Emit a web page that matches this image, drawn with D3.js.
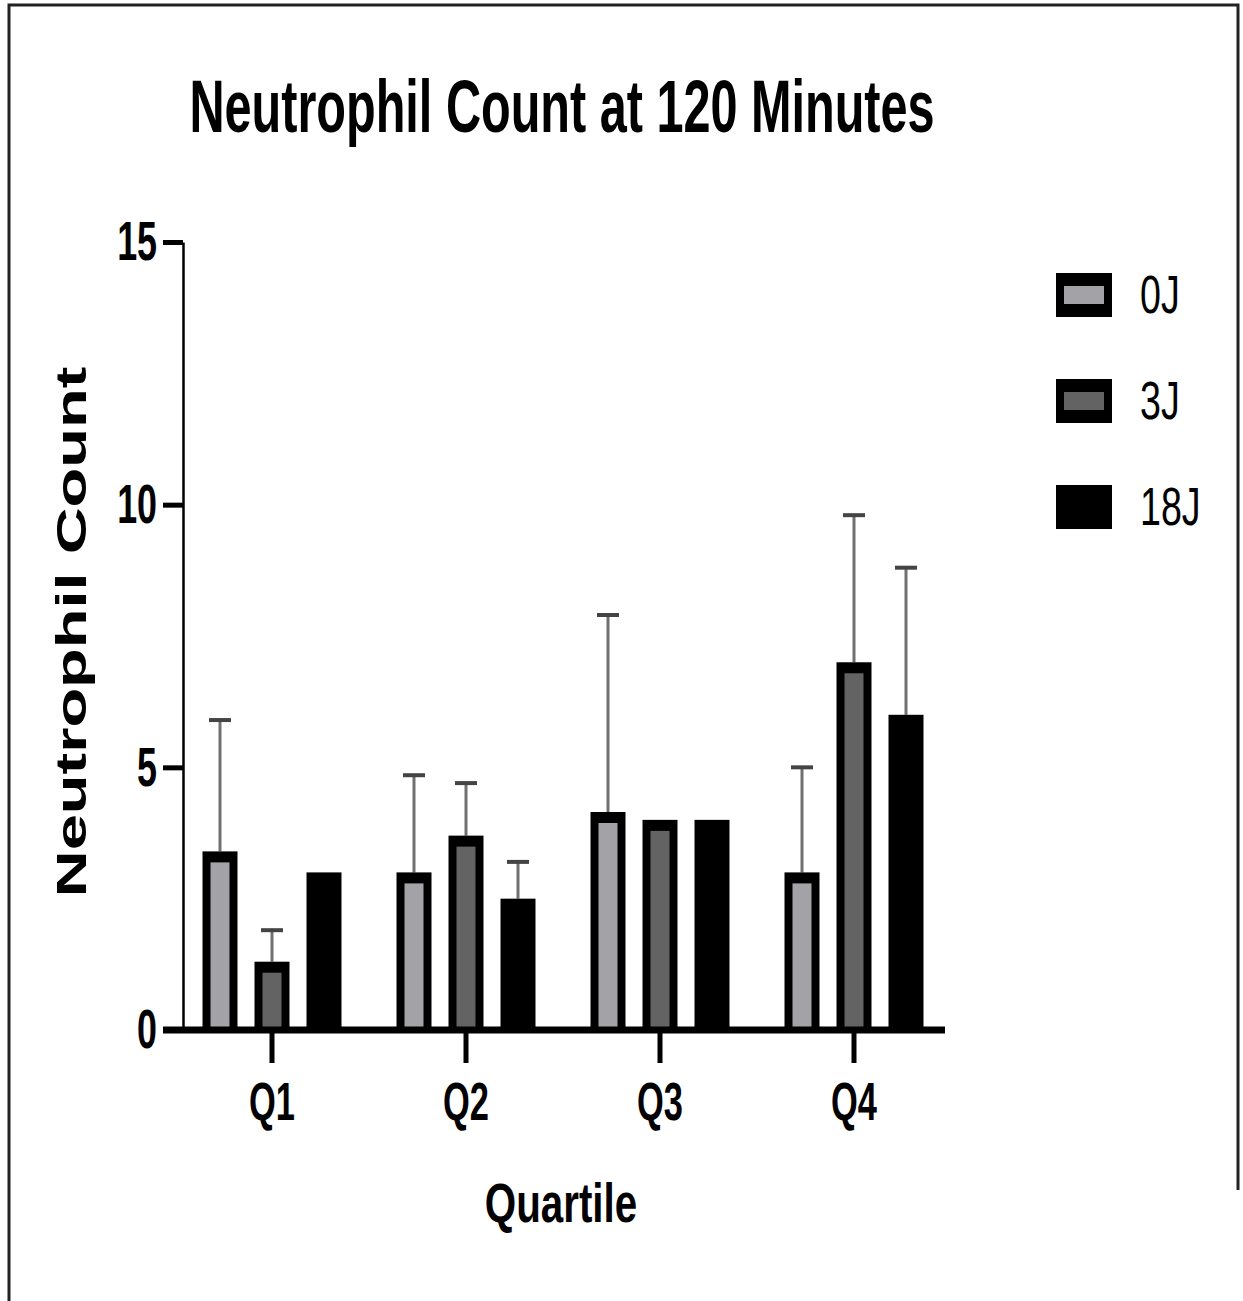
<!DOCTYPE html>
<html>
<head>
<meta charset="utf-8">
<script src="https://cdn.jsdelivr.net/npm/d3@7"></script>
<style>
  body { margin: 0; background: #fff; }
  text { font-family: "Liberation Sans", Arial, sans-serif; font-weight: bold; fill: #000; }
</style>
</head>
<body>
<div id="chart"></div>
<script>
// data
const categories = ['Q1', 'Q2', 'Q3', 'Q4'];
const series = ['0J', '3J', '18J'];
const means = {
    '0J':  [3.4, 3.0, 4.15, 3.0],
    '3J':  [1.3, 3.7, 4.0, 7.0],
    '18J': [3.0, 2.5, 4.0, 6.0]
};
// upward error bar length (SD), 0 = no bar drawn
const errors = {
    '0J':  [2.5, 1.85, 3.75, 2.0],
    '3J':  [0.6, 1.0, 0, 2.8],
    '18J': [0, 0.7, 0, 2.8]
};
const yTicks = [0, 5, 10, 15];
const fills = { '0J': '#a3a2a7', '3J': '#636363', '18J': '#000' };

const width = 1243, height = 1301;

const svg = d3.select('#chart').append('svg')
    .attr('width', width)
    .attr('height', height);

// squeeze text horizontally around its anchor (the source image is narrow)
function squeeze(sel, k) {
    sel.each(function () {
        const t = d3.select(this);
        const ax = +t.attr('x') || 0;
        t.attr('transform', `translate(${ax},0) scale(${k},1) translate(${-ax},0)`);
    });
}

// frame
svg.append('path')
    .attr('d', 'M9,1301 V5 H1238 V1190')
    .attr('fill', 'none')
    .attr('stroke', '#222')
    .attr('stroke-width', 3);

const xScale = d3.scaleBand()
    .domain(categories)
    .range([175, 951]);

const xSub = d3.scaleBand()
    .domain(series)
    .range([-78, 78])
    .paddingInner(0.327)
    .paddingOuter(0.1635);

const yScale = d3.scaleLinear()
    .domain([0, 15])
    .range([1030, 242]);

// rows: one per bar
const rows = [];
categories.forEach((c, i) => {
    series.forEach(s => rows.push({ cat: c, ser: s, mean: means[s][i], err: errors[s][i] }));
});

const chart = svg.append('g');

const barX = d => xScale(d.cat) + xScale.bandwidth() / 2 + xSub(d.ser);

// error bars (behind the bars)
const errRows = rows.filter(d => d.err > 0);
chart.selectAll('.err')
    .data(errRows)
    .join('line')
    .attr('class', 'err')
    .attr('x1', d => barX(d) + xSub.bandwidth() / 2)
    .attr('x2', d => barX(d) + xSub.bandwidth() / 2)
    .attr('y1', d => yScale(d.mean))
    .attr('y2', d => yScale(d.mean + d.err))
    .attr('stroke', '#707070')
    .attr('stroke-width', 3);

chart.selectAll('.cap')
    .data(errRows)
    .join('line')
    .attr('class', 'cap')
    .attr('x1', d => barX(d) + xSub.bandwidth() / 2 - 11)
    .attr('x2', d => barX(d) + xSub.bandwidth() / 2 + 11)
    .attr('y1', d => yScale(d.mean + d.err))
    .attr('y2', d => yScale(d.mean + d.err))
    .attr('stroke', '#444')
    .attr('stroke-width', 4);

// bars: black outline rect + inner fill
chart.selectAll('.bar')
    .data(rows)
    .join('rect')
    .attr('class', 'bar')
    .attr('x', d => barX(d))
    .attr('y', d => yScale(d.mean))
    .attr('width', xSub.bandwidth())
    .attr('height', d => yScale(0) - yScale(d.mean))
    .attr('fill', '#000');

chart.selectAll('.bar-in')
    .data(rows.filter(d => d.ser !== '18J'))
    .join('rect')
    .attr('class', 'bar-in')
    .attr('x', d => barX(d) + 8)
    .attr('y', d => yScale(d.mean) + 11)
    .attr('width', xSub.bandwidth() - 16)
    .attr('height', d => Math.max(0, yScale(0) - yScale(d.mean) - 11))
    .attr('fill', d => fills[d.ser]);

// y axis
const yAxisG = svg.append('g')
    .attr('transform', 'translate(183,0)')
    .call(d3.axisLeft(yScale).tickValues(yTicks).tickSize(20).tickSizeOuter(0).tickPadding(6));
yAxisG.select('.domain').attr('stroke', '#000').attr('stroke-width', 2.5);
yAxisG.selectAll('.tick line').attr('stroke', '#000').attr('stroke-width', 5);
yAxisG.selectAll('.tick text')
    .style('font-size', '56px')
    .call(squeeze, 0.64);

// x axis
const xAxisG = svg.append('g')
    .attr('transform', `translate(0,${yScale(0)})`)
    .call(d3.axisBottom(xScale).tickSize(33).tickSizeOuter(0).tickPadding(19));
xAxisG.select('.domain').remove();
xAxisG.append('line')
    .attr('x1', 163).attr('x2', 945)
    .attr('y1', 0).attr('y2', 0)
    .attr('stroke', '#000')
    .attr('stroke-width', 7);
xAxisG.selectAll('.tick line').attr('stroke', '#000').attr('stroke-width', 5);
xAxisG.selectAll('.tick text')
    .style('font-size', '53px')
    .call(squeeze, 0.65);

// title
svg.append('text')
    .attr('x', 562)
    .attr('y', 132)
    .attr('text-anchor', 'middle')
    .style('font-size', '75px')
    .text('Neutrophil Count at 120 Minutes')
    .call(squeeze, 0.648);

// axis titles
svg.append('text')
    .attr('transform', 'translate(86,632) scale(0.65,1) rotate(-90)')
    .attr('text-anchor', 'middle')
    .style('font-size', '65px')
    .text('Neutrophil Count');

svg.append('text')
    .attr('x', 561)
    .attr('y', 1222)
    .attr('text-anchor', 'middle')
    .style('font-size', '56px')
    .text('Quartile')
    .call(squeeze, 0.72);

// legend
const legendY = d3.scalePoint()
    .domain(series)
    .range([295, 507]);

const legend = svg.append('g');
const item = legend.selectAll('.item')
    .data(series)
    .join('g')
    .attr('class', 'item')
    .attr('transform', d => `translate(1056,${legendY(d)})`);

item.append('rect')
    .attr('x', 0).attr('y', -22)
    .attr('width', 56).attr('height', 44)
    .attr('fill', '#000');

item.filter(d => d !== '18J').append('rect')
    .attr('x', 8).attr('y', -9)
    .attr('width', 40).attr('height', 18)
    .attr('fill', d => fills[d]);

item.append('text')
    .attr('x', 84)
    .attr('y', 18)
    .style('font-size', '53px')
    .style('font-weight', 'normal')
    .text(d => d)
    .call(squeeze, 0.71);
</script>
</body>
</html>
